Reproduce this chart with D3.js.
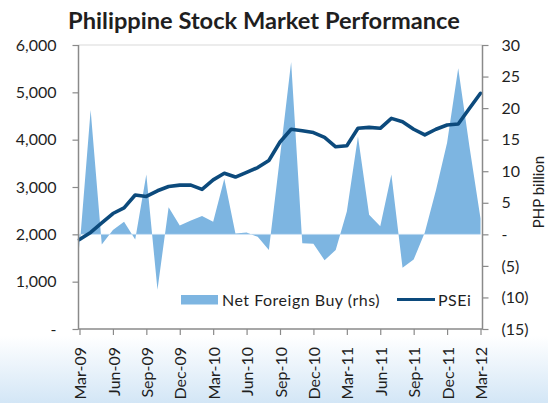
<!DOCTYPE html>
<html><head><meta charset="utf-8">
<script src="https://cdn.jsdelivr.net/npm/d3@7"></script>
<style>
body{margin:0;background:#fff}
svg{display:block}
text{font-family:Lato,"Open Sans",sans-serif;fill:#1f1f1f}
</style>
</head><body>
<svg id="c" width="548" height="403"></svg>
<script>
const months = ["Mar-09","Apr-09","May-09","Jun-09","Jul-09","Aug-09","Sep-09","Oct-09","Nov-09","Dec-09","Jan-10","Feb-10",
  "Mar-10","Apr-10","May-10","Jun-10","Jul-10","Aug-10","Sep-10","Oct-10","Nov-10","Dec-10","Jan-11","Feb-11",
  "Mar-11","Apr-11","May-11","Jun-11","Jul-11","Aug-11","Sep-11","Oct-11","Nov-11","Dec-11","Jan-12","Feb-12","Mar-12"];
const tickLabels = ["Mar-09","Jun-09","Sep-09","Dec-09","Mar-10","Jun-10","Sep-10","Dec-10","Mar-11","Jun-11","Sep-11","Dec-11","Mar-12"];
const psei = [1890,2040,2240,2440,2560,2830,2800,2920,3010,3040,3040,2950,
  3150,3290,3210,3310,3410,3560,3950,4220,4190,4150,4050,3850,
  3870,4240,4260,4240,4450,4380,4220,4100,4220,4310,4330,4660,4980];
const netForeignBuy = [-2.2,19.7,-1.6,0.7,2.0,-0.8,9.5,-8.8,4.3,1.4,2.2,2.9,
  2.0,8.8,0.15,0.3,-0.4,-2.5,12.3,27.3,-1.4,-1.5,-4.1,-2.5,
  3.6,15.5,3.1,1.3,9.5,-5.3,-4.0,0.3,7.0,14.5,26.3,14.0,2.5];
const leftTicks = [0,1000,2000,3000,4000,5000,6000];
const rightTicks = [-15,-10,-5,0,5,10,15,20,25,30];
const title = "Philippine Stock Market Performance";
const seriesNames = ["Net Foreign Buy (rhs)","PSEi"];
const rightAxisTitle = "PHP billion";

const svg = d3.select("#c");
const W = 548, H = 403;
const P = {l:78.5, r:482.5, t:45, b:329};

const defs = svg.append("defs");
const g = defs.append("linearGradient").attr("id","bg").attr("x1",0).attr("y1",0).attr("x2",0).attr("y2",1);
g.append("stop").attr("offset","0%").attr("stop-color","#ffffff");
g.append("stop").attr("offset","100%").attr("stop-color","#d3e6f6");
svg.append("rect").attr("x",0).attr("y",336).attr("width",W).attr("height",H-336).attr("fill","url(#bg)");

const x = d3.scaleLinear().domain([0, months.length-1]).range([79.5, 480.5]);
const yL = d3.scaleLinear().domain([0,6000]).range([P.b, P.t]);
const yR = d3.scaleLinear().domain([-15,30]).range([P.b, P.t]);

svg.append("line").attr("x1",P.l).attr("x2",P.r).attr("y1",P.t).attr("y2",P.t).attr("stroke","#d9d9d9").attr("stroke-width",1);

const area = d3.area().x((d,i)=>x(i)).y0(yR(0)).y1(d=>yR(d));
svg.append("path").datum(netForeignBuy).attr("d",area).attr("fill","#7db5e1");
svg.append("line").attr("x1",x(0)).attr("x2",x(months.length-1)).attr("y1",yR(0)).attr("y2",yR(0))
  .attr("stroke","#c4dcf1").attr("stroke-width",0.8);

const line = d3.line().x((d,i)=>x(i)).y(d=>yL(d));
svg.append("path").datum(psei).attr("d",line).attr("fill","none").attr("stroke","#0c4a7c")
  .attr("stroke-width",3.6).attr("stroke-linejoin","round").attr("stroke-linecap","round");

const axisColor = "#8a8a8a";
const fs = 16;
const left = svg.append("g").attr("transform",`translate(${P.l},0)`)
  .call(d3.axisLeft(yL).tickValues(leftTicks).tickSize(6).tickPadding(16)
    .tickFormat(d=> d===0 ? "-" : d3.format(",")(d)));
const right = svg.append("g").attr("transform",`translate(${P.r},0)`)
  .call(d3.axisRight(yR).tickValues(rightTicks).tickSize(6).tickPadding(13)
    .tickFormat(d=> d===0 ? "-" : (d<0 ? "("+Math.abs(d)+")" : String(d))));
const tickIdx = tickLabels.map(l => months.indexOf(l));
const bottom = svg.append("g").attr("transform",`translate(0,${P.b})`)
  .call(d3.axisBottom(x).tickValues(tickIdx).tickSize(6).tickFormat((d,i)=>tickLabels[i]));
[left,right,bottom].forEach(a=>{
  a.select(".domain").attr("stroke",axisColor).attr("stroke-width",1.5);
  a.selectAll(".tick line").attr("stroke",axisColor).attr("stroke-width",1.2);
  a.selectAll("text").attr("font-size",fs).attr("font-family","Lato, sans-serif").attr("fill","#1f1f1f");
});
left.select(".domain").attr("d",`M0,${P.b+0.5}V${P.t}`);
right.select(".domain").attr("d",`M0,${P.b+0.5}V${P.t}`);
bottom.select(".domain").attr("d",`M${P.l},0H${P.r}`);
right.selectAll(".tick text").attr("text-anchor","start").attr("dx",0);
bottom.selectAll(".tick text")
  .attr("transform","rotate(-90)").attr("text-anchor","end")
  .attr("x",-18).attr("y",0).attr("dy","0.38em").attr("dx",0);

svg.append("text").attr("transform","translate(538.5,192) rotate(-90)")
  .attr("text-anchor","middle").attr("dy","0.35em").attr("font-size",15).text(rightAxisTitle);

const t = svg.append("text").attr("x",264).attr("y",29).attr("text-anchor","middle")
  .attr("font-weight","bold").attr("font-size",22).attr("fill","#1a1a1a").text(title);
const tw = t.node().getComputedTextLength();
t.attr("font-size", 22*392/tw);

const lg = svg.append("g");
lg.append("rect").attr("x",181).attr("y",295).attr("width",37).attr("height",9.5).attr("fill","#7db5e1");
lg.append("text").attr("x",222).attr("y",300).attr("dy","0.35em").attr("font-size",fs)
  .attr("letter-spacing",0.5).text(seriesNames[0]);
lg.append("line").attr("x1",397).attr("x2",435).attr("y1",299.5).attr("y2",299.5)
  .attr("stroke","#0c4a7c").attr("stroke-width",3.2);
lg.append("text").attr("x",438).attr("y",300).attr("dy","0.35em").attr("font-size",fs)
  .attr("letter-spacing",0.5).text(seriesNames[1]);
</script>
</body></html>
